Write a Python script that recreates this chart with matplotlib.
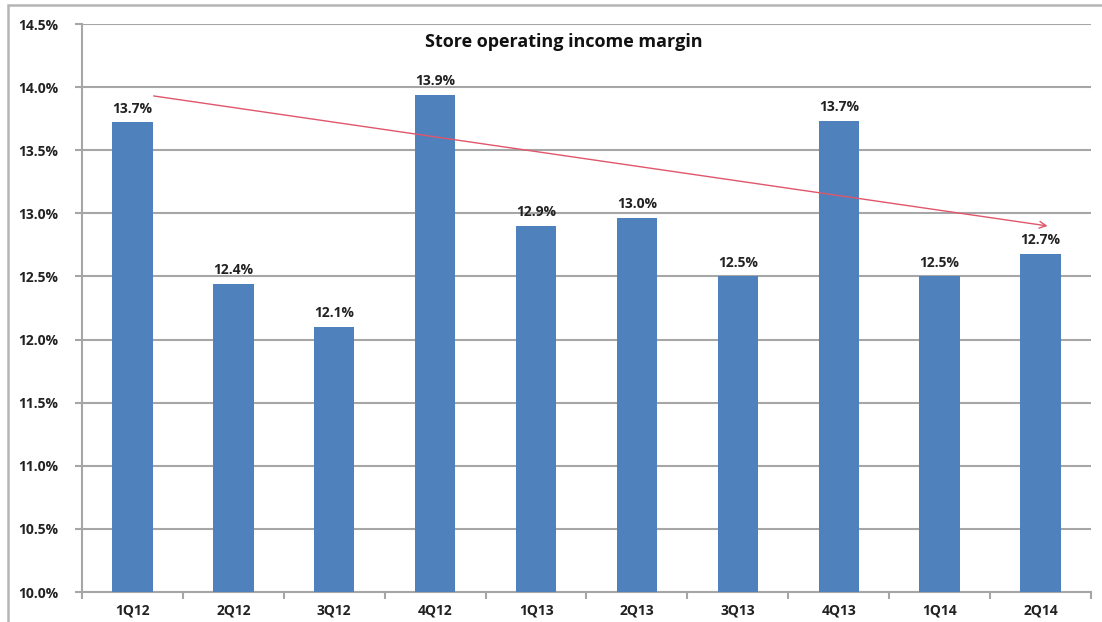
import matplotlib
matplotlib.use("Agg")
import matplotlib.pyplot as plt
from matplotlib.patches import Rectangle
from matplotlib.ticker import FuncFormatter, FixedLocator

quarters = ["1Q12", "2Q12", "3Q12", "4Q12", "1Q13", "2Q13", "3Q13", "4Q13", "1Q14", "2Q14"]
margin_pct = [13.72, 12.44, 12.10, 13.94, 12.90, 12.96, 12.50, 13.73, 12.50, 12.68]
trend_start = (0.21, 13.93)
trend_end = (9.07, 12.90)

plt.rcParams["font.family"] = ["Open Sans", "DejaVu Sans"]

fig = plt.figure(figsize=(11.02, 6.22), dpi=100)
fig.patch.set_facecolor("white")

# outer chart frame (right and bottom edges run past the canvas)
fig.add_artist(Rectangle((8 / 1102, -10 / 622), 1110 / 1102, 627 / 622,
                         transform=fig.transFigure, fill=False,
                         edgecolor="#b5b5b5", linewidth=1.8))

ax = fig.add_axes([82 / 1102, 30 / 622, 1009 / 1102, 568 / 622])
x = list(range(len(quarters)))
bars = ax.bar(x, margin_pct, width=0.4, color="#4F81BD", zorder=3)

ax.set_xlim(-0.5, len(quarters) - 0.5)
ax.set_ylim(10.0, 14.5)
ax.set_yticks([10.0 + 0.5 * i for i in range(10)])
ax.yaxis.set_major_formatter(FuncFormatter(lambda v, _: f"{v:.1f}%"))
ax.set_xticks(x)
ax.set_xticklabels(quarters)
ax.xaxis.set_minor_locator(FixedLocator([i + 0.5 for i in range(-1, len(quarters))]))

ax.grid(axis="y", color="#a6a6a6", linewidth=1.5, zorder=0)
for side in ("top", "right"):
    ax.spines[side].set_visible(False)
for side in ("left", "bottom"):
    ax.spines[side].set_color("#a6a6a6")
    ax.spines[side].set_linewidth(1.5)

ax.tick_params(axis="y", length=5, width=1.5, color="#a6a6a6", pad=12,
               labelsize=10, labelcolor="#222222")
ax.tick_params(axis="x", which="major", length=0, pad=8,
               labelsize=10, labelcolor="#222222")
ax.tick_params(axis="x", which="minor", length=5, width=1.5, color="#a6a6a6")
for lbl in ax.get_xticklabels() + ax.get_yticklabels():
    lbl.set_fontweight("bold")

for xi, v in zip(x, margin_pct):
    ax.annotate(f"{v:.1f}%", (xi, v), xytext=(0, 5), textcoords="offset points",
                ha="center", va="bottom", fontsize=10, fontweight="bold",
                color="#222222", zorder=4)

ax.annotate("", xy=trend_end, xytext=trend_start,
            arrowprops=dict(arrowstyle="->", color="#e0566a", lw=1.0,
                            mutation_scale=12, shrinkA=0, shrinkB=0),
            zorder=5)

ax.text(0.4775, 0.968, "Store operating income margin", transform=ax.transAxes,
        ha="center", va="center", fontsize=13, fontweight="bold", color="#111111")

fig.savefig("out.png", dpi=100, facecolor="white")
